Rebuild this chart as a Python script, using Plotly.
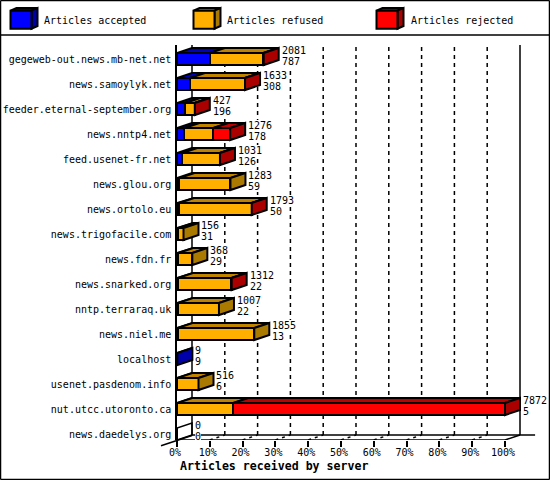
import plotly.graph_objects as go

servers = ["gegeweb-out.news.mb-net.net", "news.samoylyk.net", "feeder.eternal-september.org",
           "news.nntp4.net", "feed.usenet-fr.net", "news.glou.org", "news.ortolo.eu",
           "news.trigofacile.com", "news.fdn.fr", "news.snarked.org", "nntp.terraraq.uk",
           "news.niel.me", "localhost", "usenet.pasdenom.info", "nut.utcc.utoronto.ca",
           "news.daedelys.org"]
offered = [2081, 1633, 427, 1276, 1031, 1283, 1793, 156, 368, 1312, 1007, 1855, 9, 516, 7872, 0]
accepted = [787, 308, 196, 178, 126, 59, 50, 31, 29, 22, 22, 13, 9, 6, 5, 0]
refused = [1285, 1320, 225, 693, 900, 1224, 1738, 125, 339, 1285, 985, 1842, 0, 510, 1346, 0]
rejected = [9, 5, 6, 405, 5, 0, 5, 0, 0, 5, 0, 0, 0, 0, 6521, 0]
series_names = ["Articles accepted", "Articles refused", "Articles rejected"]
x_ticks = [0, 10, 20, 30, 40, 50, 60, 70, 80, 90, 100]

FRONT = ["#0000ff", "#ffaf00", "#ff0000"]
TOP = ["#0000bf", "#bf8300", "#bf0000"]
SIDE = ["#0000aa", "#aa7a00", "#aa0000"]
FONT = "DejaVu Sans Mono"
LW = 2

# plot area in pixels
L, R, T, B = 177, 505, 45, 440
R_AREA = 537                 # axis keeps going so the depth faces are not clipped
BAND = 25.0
DX = 15 / (R - L) * 100      # depth in percent
DY = 5 / BAND                # depth in bands
HALF = 6 / BAND              # half bar height in bands
Y_TOP = (T - 59) / BAND
Y_BOT = (B - 59) / BAND
scale = 100 / max(offered)


def px(x):
    return (x - L) / (R_AREA - L)


def py(y):
    return (B - y) / (B - T)


idx = list(range(len(servers)))
series = [accepted, refused, rejected]
fig = go.Figure()

# front faces
for s, vals in enumerate(series):
    fig.add_trace(go.Bar(
        y=idx, x=[v * scale for v in vals], orientation="h", width=2 * HALF,
        marker=dict(color=FRONT[s], line=dict(color="black", width=LW)),
        name=series_names[s], showlegend=False, hoverinfo="skip"))


def add_poly(xs, ys, fill):
    fig.add_trace(go.Scatter(
        x=xs, y=ys, mode="lines", fill="toself", fillcolor=fill,
        line=dict(color="black", width=LW), showlegend=False, hoverinfo="skip",
        cliponaxis=False))


# top faces
for s in range(3):
    xs, ys = [], []
    for i in idx:
        start = sum(series[k][i] for k in range(s)) * scale
        end = start + series[s][i] * scale
        if series[s][i] == 0:
            continue
        t = i - HALF
        xs += [start, start + DX, end + DX, end, start, None]
        ys += [t, t - DY, t - DY, t, t, None]
    add_poly(xs, ys, TOP[s])

# end faces, coloured by the last non-empty series of the row
for s in range(3):
    xs, ys = [], []
    for i in idx:
        last = max((k for k in range(3) if series[k][i] > 0), default=None)
        if last != s:
            continue
        e = sum(series[k][i] for k in range(3)) * scale
        t, b = i - HALF, i + HALF
        xs += [e, e + DX, e + DX, e, e, None]
        ys += [t, t - DY, b - DY, b, t, None]
    add_poly(xs, ys, SIDE[s])

# outline of empty rows
for i in idx:
    if offered[i] == 0:
        t, b = i - HALF, i + HALF
        fig.add_trace(go.Scatter(
            x=[0, DX, DX, 0, 0], y=[t, t - DY, b - DY, b, t], mode="lines",
            line=dict(color="black", width=1.5), showlegend=False, hoverinfo="skip",
            cliponaxis=False))

annotations = []
# value labels, each with a white box that hides the grid behind it
for i in idx:
    lx = offered[i] * scale + DX + 0.9
    for dy_, val in ((-0.36, offered[i]), (0.08, accepted[i])):
        annotations.append(dict(xref="x", yref="y", x=lx, y=i + dy_, text=str(val),
                                showarrow=False, xanchor="left", yanchor="middle",
                                bgcolor="white", borderpad=0, borderwidth=0,
                                font=dict(family=FONT, size=10, color="black")))

shapes = []
line_k = dict(color="black", width=1.5)
floor = Y_BOT - DY
ceil = Y_TOP - DY
# back-wall lines and floor
for tick in x_ticks:
    if tick in (0, 100):
        shapes.append(dict(type="line", xref="x", yref="y", x0=tick + DX, x1=tick + DX,
                           y0=floor, y1=ceil, line=line_k, layer="below"))
    else:
        shapes.append(dict(type="line", xref="x", yref="y", x0=tick + DX, x1=tick + DX,
                           y0=floor, y1=ceil + 0.2, layer="below",
                           line=dict(color="black", width=1.5, dash="4px,4px")))
        shapes.append(dict(type="line", xref="x", yref="y", x0=tick, x1=tick + DX,
                           y0=Y_BOT, y1=floor, layer="below",
                           line=dict(color="black", width=1.5, dash="3px,4px")))
shapes.append(dict(type="line", xref="x", yref="y", x0=0, x1=100, y0=Y_BOT, y1=Y_BOT, line=line_k))
shapes.append(dict(type="line", xref="x", yref="y", x0=DX, x1=100 + DX + 4.6, y0=floor, y1=floor,
                   line=line_k, layer="below"))
shapes.append(dict(type="line", xref="x", yref="y", x0=100, x1=100 + DX, y0=Y_BOT, y1=floor,
                   line=line_k, layer="below"))
shapes.append(dict(type="line", xref="paper", yref="paper", x0=px(161), x1=px(192), y0=py(445.7), y1=py(435.5),
                   line=line_k))

# frame
for x0, y0, x1, y1 in [(0.5, 0.5, 549.5, 0.5), (0.5, 479.5, 549.5, 479.5), (0.5, 0.5, 0.5, 479.5),
                       (549.5, 0.5, 549.5, 479.5), (0, 35, 550, 35)]:
    shapes.append(dict(type="line", xref="paper", yref="paper", x0=px(x0), x1=px(x1),
                       y0=py(y0), y1=py(y1), line=dict(color="black", width=1.5)))

# legend swatches
for s, (sx, tx) in enumerate([(10.5, 44), (193.5, 227), (376.5, 411)]):
    w, h, top, dx, dy = 21, 18, 10.7, 6, 2.7

    def path(pts):
        return "M " + " L ".join(f"{px(a):.5f} {py(b):.5f}" for a, b in pts) + " Z"

    kw = dict(type="path", xref="paper", yref="paper", line=dict(color="black", width=LW))
    shapes.append(dict(path=path([(sx, top), (sx + dx, top - dy), (sx + w + dx, top - dy), (sx + w, top)]),
                       fillcolor=TOP[s], **kw))
    shapes.append(dict(path=path([(sx + w, top), (sx + w + dx, top - dy), (sx + w + dx, top + h - dy), (sx + w, top + h)]),
                       fillcolor=SIDE[s], **kw))
    shapes.append(dict(path=path([(sx, top), (sx + w, top), (sx + w, top + h), (sx, top + h)]),
                       fillcolor=FRONT[s], **kw))
    annotations.append(dict(xref="paper", yref="paper", x=px(tx), y=py(20), text=series_names[s],
                            showarrow=False, xanchor="left", yanchor="middle", xshift=-2,
                            font=dict(family=FONT, size=10, color="black")))
annotations.append(dict(xref="paper", yref="paper", x=px(178), y=py(466.5),
                        text="<b>Articles received by server</b>", showarrow=False, xanchor="left",
                        yanchor="middle", font=dict(family=FONT, size=11.6, color="black")))

fig.update_layout(
    width=550, height=480, margin=dict(l=L, r=550 - R_AREA, t=T, b=480 - B, autoexpand=False),
    paper_bgcolor="white", plot_bgcolor="rgba(0,0,0,0)", barmode="stack", showlegend=False,
    shapes=shapes, annotations=annotations,
    xaxis=dict(range=[0, (R_AREA - L) / (R - L) * 100], tickvals=x_ticks,
               ticktext=[f"{t}%" for t in x_ticks], automargin=False,
               ticks="outside", ticklen=6, tickwidth=1.5, tickcolor="black", showgrid=False,
               zeroline=False, showline=False, ticklabelstandoff=-3, ticklabelshift=-2,
               tickfont=dict(family=FONT, size=10, color="black")),
    yaxis=dict(range=[Y_BOT, Y_TOP], tickmode="array", tickvals=idx, ticktext=servers, automargin=False,
               ticks="", showgrid=False, zeroline=False, showline=True, linecolor="black",
               linewidth=1.5, ticklabelstandoff=2,
               tickfont=dict(family=FONT, size=10, color="black")),
)

fig.write_html("out.html", config=dict(displayModeBar=False),
               post_script="document.body.style.margin='0';document.body.style.overflow='hidden';")
